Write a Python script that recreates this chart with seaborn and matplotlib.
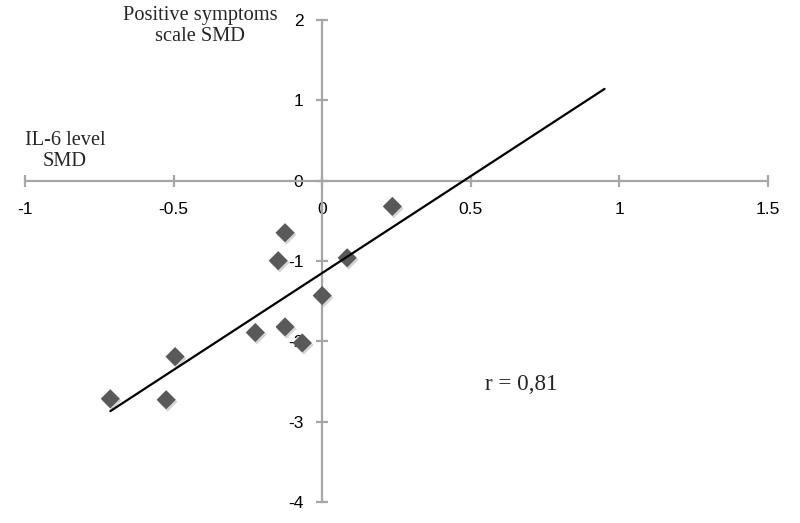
import numpy as np
import pandas as pd
import matplotlib
matplotlib.use("Agg")
import matplotlib.pyplot as plt
import matplotlib.transforms as mtransforms
import seaborn as sns

# Data
il6_smd = [-0.713, -0.495, -0.525, -0.225, -0.148, -0.125, -0.125, -0.067, 0.0, 0.084, 0.236]
pos_smd = [-2.715, -2.19, -2.727, -1.89, -0.996, -0.648, -1.82, -2.02, -1.43, -0.96, -0.32]
trend_x_end = 0.95
x_ticks = [-1, -0.5, 0, 0.5, 1, 1.5]
y_ticks = [-4, -3, -2, -1, 0, 1, 2]
r_label = "r = 0,81"

df = pd.DataFrame({"il6": il6_smd, "pos": pos_smd})

sns.set_style("white")
fig = plt.figure(figsize=(8, 5.23), dpi=100)
ax = fig.add_axes([25/800, 1-502/523, (768-25)/800, (502-20)/523])

axis_col = "#a6a6a6"
# soft shadow
sns.scatterplot(data=df, x="il6", y="pos", marker="D", s=100, color="#b0b0b0",
                edgecolor="none", ax=ax, zorder=2, alpha=0.55)
for coll in ax.collections:
    coll.set_offset_transform(ax.transData + mtransforms.ScaledTranslation(1.5/100, -2/100, fig.dpi_scale_trans))
sns.scatterplot(data=df, x="il6", y="pos", marker="D", s=95, color="#595959",
                edgecolor="none", ax=ax, zorder=3)

slope, intercept = np.polyfit(df["il6"], df["pos"], 1)
lx = np.array([df["il6"].min(), trend_x_end])
sns.lineplot(x=lx, y=slope * lx + intercept, color="black", linewidth=1.6, ax=ax, zorder=4)

ax.set_xlim(x_ticks[0], x_ticks[-1])
ax.set_ylim(y_ticks[0], y_ticks[-1])
ax.spines["left"].set_position(("data", 0))
ax.spines["bottom"].set_position(("data", 0))
ax.spines["right"].set_visible(False)
ax.spines["top"].set_visible(False)
for s in ["left", "bottom"]:
    ax.spines[s].set_color(axis_col)
    ax.spines[s].set_linewidth(1.6)
ax.set_xticks(x_ticks)
ax.set_yticks(y_ticks)
ax.set_xticklabels([f"{v:g}" for v in x_ticks])
ax.set_yticklabels([f"{v:g}" for v in y_ticks])
ax.tick_params(axis="both", direction="inout", length=8, width=1.6, color=axis_col,
               labelsize=12.5, labelcolor="black", bottom=True, left=True)
ax.tick_params(axis="x", pad=11.5)
ax.tick_params(axis="y", pad=9.5)
for lab in ax.get_xticklabels() + ax.get_yticklabels():
    lab.set_fontfamily("Liberation Sans")
    lab.set_zorder(1)
ax.set_xlabel("")
ax.set_ylabel("")
ax.patch.set_alpha(0)

serif = "Liberation Serif"
fig.text(200/800, 1-26/523, "Positive symptoms\nscale SMD", ha="center", va="center",
         fontsize=14.7, family=serif, linespacing=1.12)
fig.text(65/800, 1-151/523, "IL-6 level\nSMD", ha="center", va="center",
         fontsize=14.7, family=serif, linespacing=1.12)
fig.text(521/800, 1-384/523, r_label, ha="center", va="center", fontsize=16.7, family=serif)

fig.savefig("out.png", dpi=100)
